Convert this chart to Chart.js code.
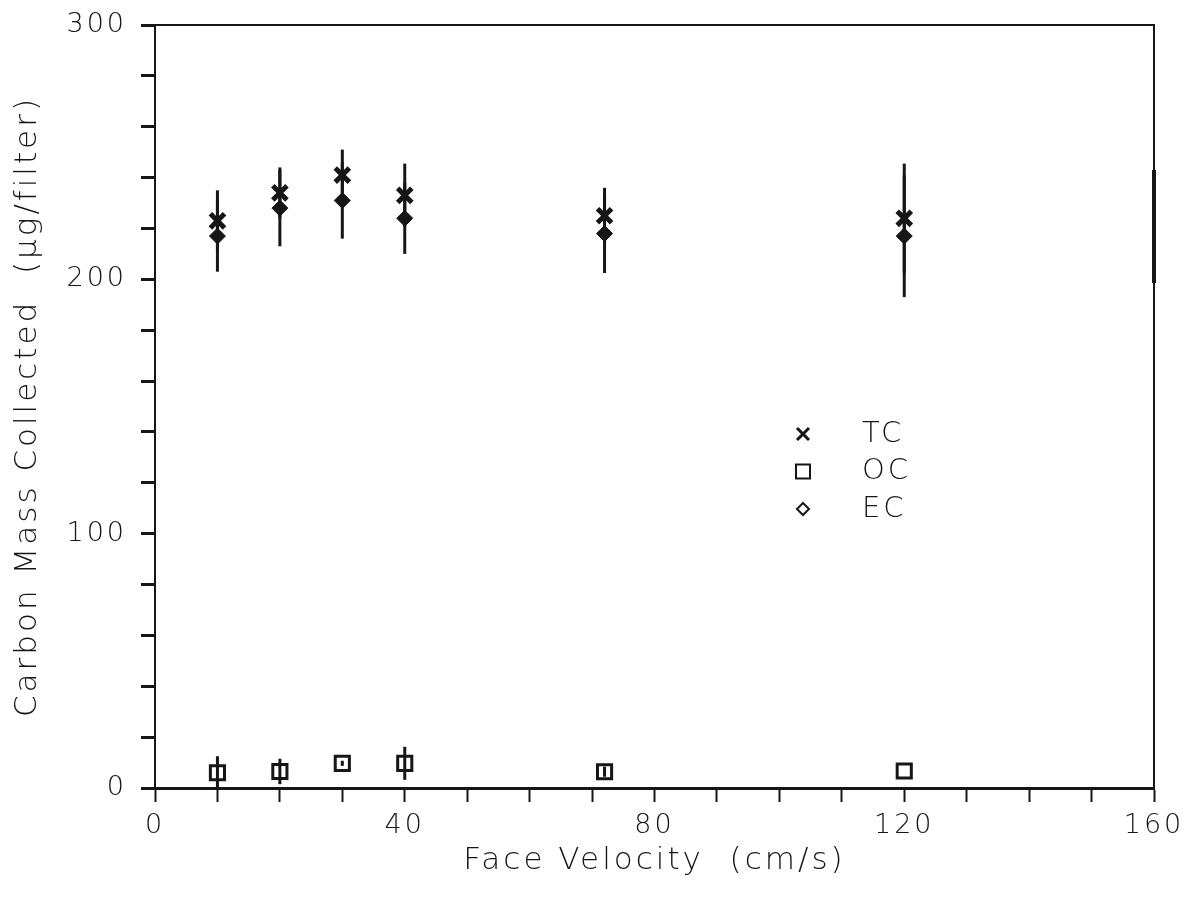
<!DOCTYPE html>
<html>
<head>
<meta charset="utf-8">
<script src="https://cdn.jsdelivr.net/npm/chart.js@4.4.1/dist/chart.umd.min.js"></script>
<style>
  html, body { margin: 0; padding: 0; background: #fff; }
  #wrap { width: 1188px; height: 902px; }
</style>
</head>
<body>
<div id="wrap"><canvas id="chart" width="1188" height="902"></canvas></div>
<script>
// face velocity (cm/s)
const velocity = [10, 20, 30, 40, 72, 120];
// carbon mass (ug/filter)
const tc    = [223, 234, 241, 233, 225, 224];
const tcErr = [12, 10, 10, 12.5, 11, 21.5];
const ec    = [217, 228, 231, 224, 218, 217];
const ecErr = [14, 15, 15, 14, 15.5, 24];
const oc    = [6, 6.5, 9.7, 9.7, 6.4, 6.7];
const ocErr = [6.5, 5, 1, 6.5, 2, 0];

const legendItems = ['TC', 'OC', 'EC'];
const ink = '#161616';
const fontFam = "'DejaVu Sans Light', 'DejaVu Sans', sans-serif";

function pts(ys) {
  return velocity.map((v, i) => ({x: v, y: ys[i]}));
}

const errors = [tcErr, ocErr, ecErr];

const spacing = {
  id: 'spacing',
  beforeUpdate(chart) { chart.ctx.letterSpacing = '3px'; },
  beforeDraw(chart) { chart.ctx.letterSpacing = '3px'; }
};

const errorBars = {
  id: 'errorBars',
  beforeDatasetsDraw(chart) {
    const c = chart.ctx, xs = chart.scales.x, ys = chart.scales.y;
    c.save();
    c.strokeStyle = ink;
    c.lineWidth = 3;
    chart.data.datasets.forEach((ds, k) => {
      ds.data.forEach((p, i) => {
        const e = errors[k][i];
        if (!e) return;
        const px = xs.getPixelForValue(p.x);
        c.beginPath();
        c.moveTo(px, ys.getPixelForValue(p.y + e));
        c.lineTo(px, ys.getPixelForValue(Math.max(0, p.y - e)));
        c.stroke();
      });
    });
    c.restore();
  }
};

const frame = {
  id: 'frame',
  afterDraw(chart) {
    const c = chart.ctx, a = chart.chartArea;
    c.save();
    c.strokeStyle = ink;
    c.lineWidth = 2;
    c.beginPath();
    c.moveTo(a.left, a.top);
    c.lineTo(a.right, a.top);
    c.lineTo(a.right, a.bottom);
    c.stroke();
    c.lineWidth = 4;
    c.beginPath();
    c.moveTo(a.right, a.top + 145);
    c.lineTo(a.right, a.top + 258);
    c.stroke();

    // legend
    const lx = a.left + 648, ty = a.top + 409, gap = 37.5;
    c.fillStyle = ink;
    c.font = "200 29px " + fontFam;
    c.textBaseline = 'middle';
    legendItems.forEach((t, i) => {
      const y = ty + i * gap;
      c.beginPath();
      if (i === 0) {
        c.moveTo(lx - 6, y - 6); c.lineTo(lx + 6, y + 6);
        c.moveTo(lx - 6, y + 6); c.lineTo(lx + 6, y - 6);
        c.lineWidth = 3;
      } else if (i === 1) {
        c.rect(lx - 7, y - 7, 14, 14);
        c.lineWidth = 2;
      } else {
        c.moveTo(lx, y - 6); c.lineTo(lx + 6, y); c.lineTo(lx, y + 6); c.lineTo(lx - 6, y); c.closePath();
        c.lineWidth = 2;
      }
      c.stroke();
      c.fillText(t, lx + 59, y);
    });
    c.restore();
  }
};

const ctx = document.getElementById('chart').getContext('2d');

const config = {
  type: 'scatter',
  data: {
    datasets: [
      {
        label: 'TC',
        data: pts(tc),
        pointStyle: 'crossRot',
        pointRadius: 10,
        pointBorderWidth: 5,
        borderColor: ink,
        backgroundColor: ink
      },
      {
        label: 'OC',
        data: pts(oc),
        pointStyle: 'rect',
        pointRadius: 10,
        pointBorderWidth: 3,
        borderColor: ink,
        backgroundColor: 'rgba(0,0,0,0)'
      },
      {
        label: 'EC',
        data: pts(ec),
        pointStyle: 'rectRot',
        pointRadius: 8,
        pointBorderWidth: 1,
        borderColor: ink,
        backgroundColor: ink
      }
    ]
  },
  options: {
    responsive: false,
    animation: false,
    layout: { padding: { left: 0, right: 34, top: 25, bottom: 0 } },
    plugins: {
      legend: { display: false },
      tooltip: { enabled: false }
    },
    scales: {
      x: {
        type: 'linear',
        min: 0,
        max: 160,
        afterFit(scale) {
          scale.height = 114;
          scale.paddingLeft = 0;
          scale.paddingRight = 0;
        },
        border: { display: true, color: ink, width: 3 },
        grid: { drawOnChartArea: false, drawTicks: true, tickLength: 14, tickWidth: 2, tickColor: ink },
        ticks: {
          stepSize: 10,
          padding: 8,
          color: ink,
          font: { family: fontFam, size: 27, weight: 200 },
          maxRotation: 0,
          autoSkip: false,
          callback: (v) => (v % 40 === 0 ? v : '')
        },
        title: {
          display: true,
          text: 'Face Velocity  (cm/s)',
          color: ink,
          font: { family: fontFam, size: 31, weight: 200 },
          padding: { top: 0, bottom: 22 }
        }
      },
      y: {
        type: 'linear',
        min: 0,
        max: 300,
        afterFit(scale) {
          scale.width = 155;
          scale.paddingTop = 0;
          scale.paddingBottom = 0;
        },
        border: { display: true, color: ink, width: 2 },
        grid: { drawOnChartArea: false, drawTicks: true, tickLength: 14, tickWidth: 3, tickColor: ink },
        ticks: {
          stepSize: 20,
          padding: 14,
          color: ink,
          font: { family: fontFam, size: 27, weight: 200 },
          autoSkip: false,
          callback: (v) => (v % 100 === 0 ? v : '')
        },
        title: {
          display: true,
          text: 'Carbon Mass Collected  (\u03bcg/filter)',
          color: ink,
          font: { family: fontFam, size: 31, weight: 200 },
          padding: { top: 9, bottom: 0 }
        }
      }
    }
  },
  plugins: [spacing, errorBars, frame]
};

const chart = new Chart(ctx, config);
</script>
</body>
</html>
